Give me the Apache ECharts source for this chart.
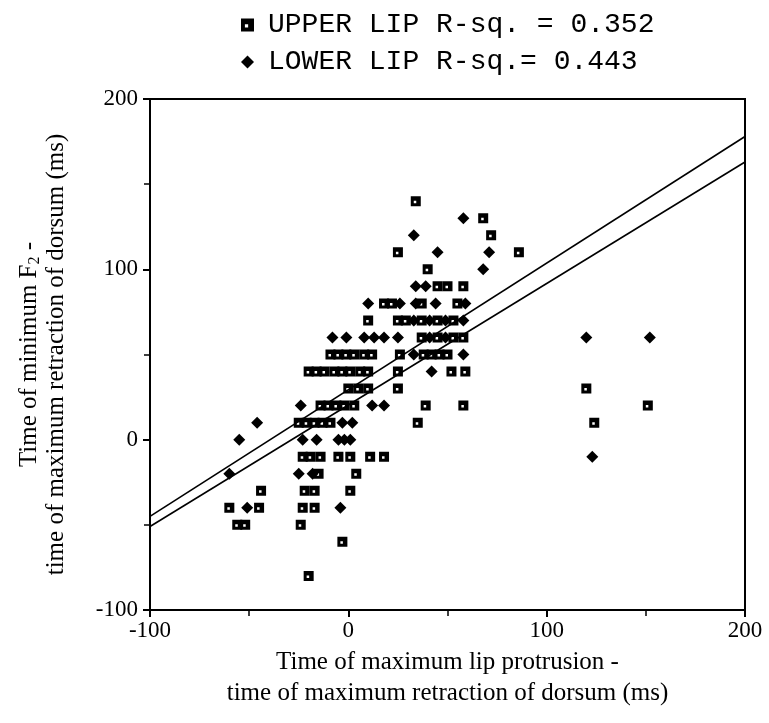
<!DOCTYPE html>
<html>
<head>
<meta charset="utf-8">
<script src="https://cdn.jsdelivr.net/npm/echarts@6/dist/echarts.min.js"></script>
<style>html,body{margin:0;padding:0;background:#fff;}#c{width:769px;height:723px;}</style>
</head>
<body>
<div id="c"></div>
<script>
// ---- data ----
const upperName = 'UPPER LIP R-sq. = 0.352';
const lowerName = 'LOWER LIP R-sq.= 0.443';

// UPPER LIP (squares)
const upperX = [34, 68, 72, 25, 86, 40, 45, 50, 58, 18, 22, 37, 55,
  10, 25, 29, 37, 45, 53, 37, 45, 53, 58,
  -9, -5, -1, 3, 8, 12, 26, 38, 42, 46, 50,
  -20, -16, -12, -7, -3, 1, 6, 10, 25, 52, 59,
  0, 5, 10, 25, 120,
  -14, -10, -6, -2, 3, 39, 58, 151,
  -25, -21, -17, -13, -9, 35, 124,
  -23, -19, -14, -5, 1, 11, 18,
  -15, 4,
  -44, -22, -17, 1,
  -60, -45, -23, -17,
  -56, -52, -24,
  -3, -20];
const upperY = [140, 130, 120, 110, 110, 100, 90, 90, 90, 80, 80, 80, 80,
  70, 70, 70, 70, 70, 70, 60, 60, 60, 60,
  50, 50, 50, 50, 50, 50, 50, 50, 50, 50, 50,
  40, 40, 40, 40, 40, 40, 40, 40, 40, 40, 40,
  30, 30, 30, 30, 30,
  20, 20, 20, 20, 20, 20, 20, 20,
  10, 10, 10, 10, 10, 10, 10,
  -10, -10, -10, -10, -10, -10, -10,
  -20, -20,
  -30, -30, -30, -30,
  -40, -40, -40, -40,
  -50, -50, -50,
  -60, -80];

// LOWER LIP (diamonds)
const lowerX = [58, 33, 45, 71, 68, 34, 39,
  10, 26, 34, 44, 59,
  33, 41, 49, 58,
  -8, -1, 8, 13, 18, 25, 41, 49, 120, 152,
  33, 58, 42,
  -24, 12, 18,
  -46, -3, 2,
  -55, -23, -16, -5, -2, 1,
  123,
  -60, -25, -18,
  -51, -4];
const lowerY = [130, 120, 110, 110, 100, 90, 90,
  80, 80, 80, 80, 80,
  70, 70, 70, 70,
  60, 60, 60, 60, 60, 60, 60, 60, 60, 60,
  50, 50, 40,
  20, 20, 20,
  10, 10, 10,
  0, 0, 0, 0, 0, 0,
  -10,
  -20, -20, -20,
  -40, -40];

// regression lines (end points at x = -100 and x = 200)
const fitX = [-100, 200];
const fitUpperLine = [-45, 178];
const fitLowerLine = [-51, 163];

// axis ticks
const xTicks = [-100, 0, 100, 200];
const yTicks = [-100, 0, 100, 200];

const pairs = (xs, ys) => xs.map((x, i) => [x, ys[i]]);

const squareSym = 'path://M0,0L10,0L10,10L0,10Z M3,4.5L3,7L5.5,7L5.5,4.5Z';

const chart = echarts.init(document.getElementById('c'), null, {renderer: 'canvas'});
const serif = 'Liberation Serif';
chart.setOption({
  animation: false,
  backgroundColor: '#fff',
  grid: {left: 150, right: 24, top: 99, bottom: 113, show: true, borderColor: '#000', borderWidth: 2, backgroundColor: 'transparent'},
  legend: {
    data: [{name: upperName, icon: squareSym}, {name: lowerName, icon: 'diamond'}],
    orient: 'vertical', left: 236, top: 6, itemWidth: 13, itemHeight: 13, itemGap: 9,
    textStyle: {fontFamily: 'Liberation Mono', fontSize: 28, color: '#000', padding: [0, 0, 0, 9]}
  },
  xAxis: {
    type: 'value', min: xTicks[0], max: xTicks[xTicks.length - 1], interval: 100,
    axisLine: {onZero: false, lineStyle: {color: '#000', width: 2}},
    axisTick: {length: 7, lineStyle: {color: '#000', width: 2}},
    minorTick: {show: true, splitNumber: 2, length: 6, lineStyle: {color: '#000', width: 1.5}},
    splitLine: {show: false},
    axisLabel: {fontFamily: serif, fontSize: 23, color: '#000', margin: 9},
    name: 'Time of maximum lip protrusion -\ntime of maximum retraction of dorsum (ms)',
    nameLocation: 'middle', nameGap: 37,
    nameTextStyle: {fontFamily: serif, fontSize: 25, color: '#000', lineHeight: 31}
  },
  yAxis: {
    type: 'value', min: yTicks[0], max: yTicks[yTicks.length - 1], interval: 100,
    axisLine: {onZero: false, lineStyle: {color: '#000', width: 2}},
    axisTick: {length: 7, lineStyle: {color: '#000', width: 2}},
    minorTick: {show: true, splitNumber: 2, length: 6, lineStyle: {color: '#000', width: 1.5}},
    splitLine: {show: false},
    axisLabel: {fontFamily: serif, fontSize: 23, color: '#000', margin: 12},
    name: 'Time of minimum F{sub|2} -\ntime of maximum retraction of dorsum (ms)',
    nameLocation: 'middle', nameGap: 80, nameRotate: 90,
    nameTextStyle: {fontFamily: serif, fontSize: 25, color: '#000', lineHeight: 27,
      rich: {sub: {fontFamily: serif, fontSize: 16, color: '#000', lineHeight: 27, verticalAlign: 'bottom'}}}
  },
  series: [
    {name: upperName, type: 'scatter', data: pairs(upperX, upperY), symbol: squareSym, symbolSize: 10,
      itemStyle: {color: '#000', opacity: 1}, z: 3},
    {name: lowerName, type: 'scatter', data: pairs(lowerX, lowerY), symbol: 'diamond', symbolSize: 12,
      itemStyle: {color: '#000', opacity: 1}, z: 3},
    {name: 'fitA', type: 'line', data: pairs(fitX, fitUpperLine), symbol: 'none', silent: true,
      lineStyle: {color: '#000', width: 1.6}, z: 4},
    {name: 'fitB', type: 'line', data: pairs(fitX, fitLowerLine), symbol: 'none', silent: true,
      lineStyle: {color: '#000', width: 1.6}, z: 4}
  ]
});
</script>
</body>
</html>
